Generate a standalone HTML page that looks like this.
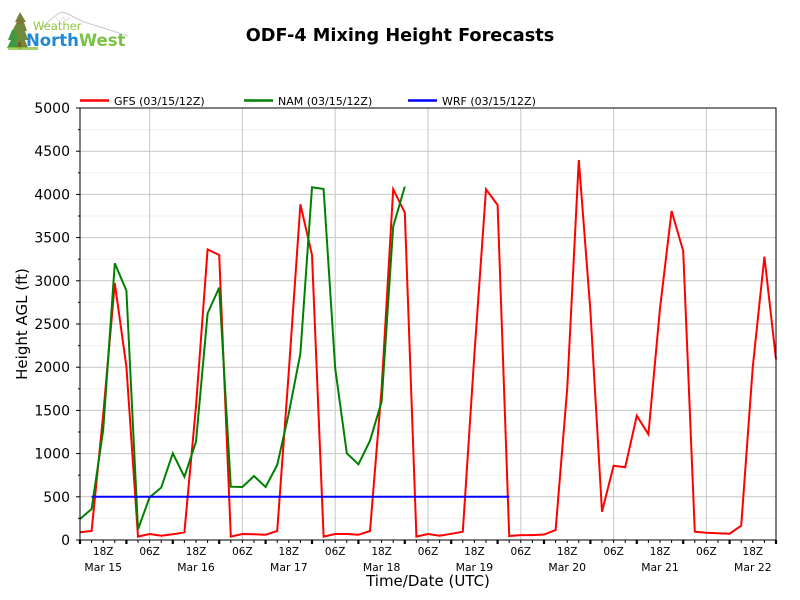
<!DOCTYPE html>
<html>
<head>
<meta charset="utf-8">
<style>
html,body{margin:0;padding:0;background:#fff;}
body{width:800px;height:600px;overflow:hidden;}
svg{display:block;font-family:"DejaVu Sans","Liberation Sans",sans-serif;}
</style>
</head>
<body>
<svg width="800" height="600" viewBox="0 0 800 600" xmlns="http://www.w3.org/2000/svg">
<rect x="0" y="0" width="800" height="600" fill="#fff"/>

<!-- Logo -->
<g>
  <polyline points="40,30 50,20 58,14 62,12 66,13 72,16 84,22 100,27 116,32 128,36" fill="none" stroke="#c9c9c9" stroke-width="1"/>
  <polyline points="56,18 60,22 63,17 66,21 70,18" fill="none" stroke="#d8d8d8" stroke-width="0.8"/>
  <polygon points="20,12 15,22 17,22 12,31 15,31 9,40 13,40 8,48 28,48 25,40 28,40 25,31 27,31 24,22 26,22" fill="#6f8a3a"/>
  <polygon points="20,14 16,24 24,24" fill="#8a6a3a" opacity="0.6"/>
  <polygon points="12,30 8,40 11,40 7,48 18,48 16,40 18,40 15,30" fill="#3f9a3f"/>
  <rect x="18" y="42" width="3" height="7" fill="#7a5a2a"/>
  <rect x="8" y="47" width="30" height="3" fill="#8cc63f" opacity="0.8"/>
  <text x="33" y="30" font-size="11.5" fill="#8cc63f">Weather</text>
  <text x="26" y="46" font-size="16.5" font-weight="bold"><tspan fill="#2188d6">North</tspan><tspan fill="#7cc242">West</tspan></text>
</g>

<!-- Title -->
<text x="400" y="41" font-size="17.7" font-weight="bold" text-anchor="middle" fill="#000">ODF-4 Mixing Height Forecasts</text>

<!-- Legend -->
<g font-size="11" fill="#000">
  <line x1="80" y1="100.5" x2="109" y2="100.5" stroke="#ff0000" stroke-width="2.5"/>
  <text x="114" y="105">GFS (03/15/12Z)</text>
  <line x1="244" y1="100.5" x2="273" y2="100.5" stroke="#008000" stroke-width="2.5"/>
  <text x="278" y="105">NAM (03/15/12Z)</text>
  <line x1="408" y1="100.5" x2="437" y2="100.5" stroke="#0000ff" stroke-width="2.5"/>
  <text x="442" y="105">WRF (03/15/12Z)</text>
</g>

<!-- Minor horizontal grid -->
<g stroke="#efefef" stroke-width="1">
  <line x1="80" y1="518.4" x2="776" y2="518.4"/>
  <line x1="80" y1="475.2" x2="776" y2="475.2"/>
  <line x1="80" y1="432" x2="776" y2="432"/>
  <line x1="80" y1="388.8" x2="776" y2="388.8"/>
  <line x1="80" y1="345.6" x2="776" y2="345.6"/>
  <line x1="80" y1="302.4" x2="776" y2="302.4"/>
  <line x1="80" y1="259.2" x2="776" y2="259.2"/>
  <line x1="80" y1="216" x2="776" y2="216"/>
  <line x1="80" y1="172.8" x2="776" y2="172.8"/>
  <line x1="80" y1="129.6" x2="776" y2="129.6"/>
</g>
<!-- Major horizontal grid -->
<g stroke="#c6c6c6" stroke-width="1">
  <line x1="80" y1="496.8" x2="776" y2="496.8"/>
  <line x1="80" y1="453.6" x2="776" y2="453.6"/>
  <line x1="80" y1="410.4" x2="776" y2="410.4"/>
  <line x1="80" y1="367.2" x2="776" y2="367.2"/>
  <line x1="80" y1="324" x2="776" y2="324"/>
  <line x1="80" y1="280.8" x2="776" y2="280.8"/>
  <line x1="80" y1="237.6" x2="776" y2="237.6"/>
  <line x1="80" y1="194.4" x2="776" y2="194.4"/>
  <line x1="80" y1="151.2" x2="776" y2="151.2"/>
</g>
<!-- Vertical grid (06Z) -->
<g stroke="#c6c6c6" stroke-width="1">
  <line x1="149.6" y1="108" x2="149.6" y2="540"/>
  <line x1="242.4" y1="108" x2="242.4" y2="540"/>
  <line x1="335.2" y1="108" x2="335.2" y2="540"/>
  <line x1="428" y1="108" x2="428" y2="540"/>
  <line x1="520.8" y1="108" x2="520.8" y2="540"/>
  <line x1="613.6" y1="108" x2="613.6" y2="540"/>
  <line x1="706.4" y1="108" x2="706.4" y2="540"/>
</g>

<!-- Series -->
<g fill="none" stroke-width="2" stroke-linejoin="miter" stroke-linecap="butt">
  <polyline stroke="#ff0000" points="80,532.3 91.6,531 103.2,414.7 114.8,283 126.4,366.7 138,536.6 149.6,534 161.2,535.7 172.8,534.3 184.4,532.3 196,406.1 207.6,249.4 219.2,255 230.8,536.6 242.4,534 254,534.3 265.6,534.8 277.2,531 288.8,371.5 300.4,204.3 312,255 323.6,536.6 335.2,534 346.8,534 358.4,534.8 370,531 381.6,388.8 393.2,189.3 404.8,212.6 416.4,536.6 428,534 439.6,535.7 451.2,533.8 462.8,531.7 474.4,354.2 486,189.3 497.6,205 509.2,536 520.8,535.1 532.4,535.1 544,534.5 555.6,530 567.2,388.8 578.8,160 590.4,311 602,511.7 613.6,465.7 625.2,467.3 636.8,415.7 648.4,434.3 660,308.4 671.6,211 683.2,251 694.8,531.7 706.4,532.7 718,533.3 729.6,533.7 741.2,525.7 752.8,366.7 764.4,256.7 776,359.3"/>
  <polyline stroke="#008000" points="80,519 91.6,509 103.2,430 114.8,263.3 126.4,290.6 138,529.4 149.6,497.3 161.2,487.6 172.8,453.3 184.4,476.7 196,441.7 207.6,313.4 219.2,287.6 230.8,486.7 242.4,487 254,476 265.6,487 277.2,465 288.8,413.3 300.4,353.4 312,187.3 323.6,189 335.2,368.3 346.8,453.3 358.4,464.3 370,440.7 381.6,401.7 393.2,226.6 404.8,186.6"/>
  <line stroke="#0000ff" x1="91.6" y1="496.8" x2="509.2" y2="496.8"/>
</g>

<!-- Spines -->
<rect x="80" y="108" width="696" height="432" fill="none" stroke="#000" stroke-width="1"/>

<!-- Y ticks -->
<g stroke="#000" stroke-width="1">
  <line x1="76" y1="540" x2="80" y2="540"/>
  <line x1="76" y1="496.8" x2="80" y2="496.8"/>
  <line x1="76" y1="453.6" x2="80" y2="453.6"/>
  <line x1="76" y1="410.4" x2="80" y2="410.4"/>
  <line x1="76" y1="367.2" x2="80" y2="367.2"/>
  <line x1="76" y1="324" x2="80" y2="324"/>
  <line x1="76" y1="280.8" x2="80" y2="280.8"/>
  <line x1="76" y1="237.6" x2="80" y2="237.6"/>
  <line x1="76" y1="194.4" x2="80" y2="194.4"/>
  <line x1="76" y1="151.2" x2="80" y2="151.2"/>
  <line x1="76" y1="108" x2="80" y2="108"/>
  <line x1="78" y1="518.4" x2="80" y2="518.4"/>
  <line x1="78" y1="475.2" x2="80" y2="475.2"/>
  <line x1="78" y1="432" x2="80" y2="432"/>
  <line x1="78" y1="388.8" x2="80" y2="388.8"/>
  <line x1="78" y1="345.6" x2="80" y2="345.6"/>
  <line x1="78" y1="302.4" x2="80" y2="302.4"/>
  <line x1="78" y1="259.2" x2="80" y2="259.2"/>
  <line x1="78" y1="216" x2="80" y2="216"/>
  <line x1="78" y1="172.8" x2="80" y2="172.8"/>
  <line x1="78" y1="129.6" x2="80" y2="129.6"/>
</g>
<g font-size="14" fill="#000" text-anchor="end">
  <text x="70" y="545">0</text>
  <text x="70" y="501.8">500</text>
  <text x="70" y="458.6">1000</text>
  <text x="70" y="415.4">1500</text>
  <text x="70" y="372.2">2000</text>
  <text x="70" y="329">2500</text>
  <text x="70" y="285.8">3000</text>
  <text x="70" y="242.6">3500</text>
  <text x="70" y="199.4">4000</text>
  <text x="70" y="156.2">4500</text>
  <text x="70" y="113">5000</text>
</g>

<!-- X minor ticks -->
<path stroke="#000" stroke-width="1" fill="none" d="M91.6,540v3 M103.2,540v3 M114.8,540v3 M138,540v3 M149.6,540v3 M161.2,540v3 M184.4,540v3 M196,540v3 M207.6,540v3 M230.8,540v3 M242.4,540v3 M254,540v3 M277.2,540v3 M288.8,540v3 M300.4,540v3 M323.6,540v3 M335.2,540v3 M346.8,540v3 M370,540v3 M381.6,540v3 M393.2,540v3 M416.4,540v3 M428,540v3 M439.6,540v3 M462.8,540v3 M474.4,540v3 M486,540v3 M509.2,540v3 M520.8,540v3 M532.4,540v3 M555.6,540v3 M567.2,540v3 M578.8,540v3 M602,540v3 M613.6,540v3 M625.2,540v3 M648.4,540v3 M660,540v3 M671.6,540v3 M694.8,540v3 M706.4,540v3 M718,540v3 M741.2,540v3 M752.8,540v3 M764.4,540v3"/>
<!-- X major ticks -->
<path stroke="#000" stroke-width="2.2" fill="none" d="M80,540v4 M126.4,540v4 M172.8,540v4 M219.2,540v4 M265.6,540v4 M312,540v4 M358.4,540v4 M404.8,540v4 M451.2,540v4 M497.6,540v4 M544,540v4 M590.4,540v4 M636.8,540v4 M683.2,540v4 M729.6,540v4 M776,540v4"/>

<!-- X tick labels -->
<g font-size="10.5" fill="#000" text-anchor="middle">
  <text x="103.2" y="555">18Z</text>
  <text x="149.6" y="555">06Z</text>
  <text x="196" y="555">18Z</text>
  <text x="242.4" y="555">06Z</text>
  <text x="288.8" y="555">18Z</text>
  <text x="335.2" y="555">06Z</text>
  <text x="381.6" y="555">18Z</text>
  <text x="428" y="555">06Z</text>
  <text x="474.4" y="555">18Z</text>
  <text x="520.8" y="555">06Z</text>
  <text x="567.2" y="555">18Z</text>
  <text x="613.6" y="555">06Z</text>
  <text x="660" y="555">18Z</text>
  <text x="706.4" y="555">06Z</text>
  <text x="752.8" y="555">18Z</text>
</g>
<g font-size="10.8" fill="#000" text-anchor="middle">
  <text x="103.2" y="571">Mar 15</text>
  <text x="196" y="571">Mar 16</text>
  <text x="288.8" y="571">Mar 17</text>
  <text x="381.6" y="571">Mar 18</text>
  <text x="474.4" y="571">Mar 19</text>
  <text x="567.2" y="571">Mar 20</text>
  <text x="660" y="571">Mar 21</text>
  <text x="752.8" y="571">Mar 22</text>
</g>

<!-- Axis labels -->
<text x="428" y="586" font-size="15" text-anchor="middle" fill="#000">Time/Date (UTC)</text>
<text transform="translate(27,324) rotate(-90)" font-size="15" text-anchor="middle" fill="#000">Height AGL (ft)</text>
</svg>
</body>
</html>
